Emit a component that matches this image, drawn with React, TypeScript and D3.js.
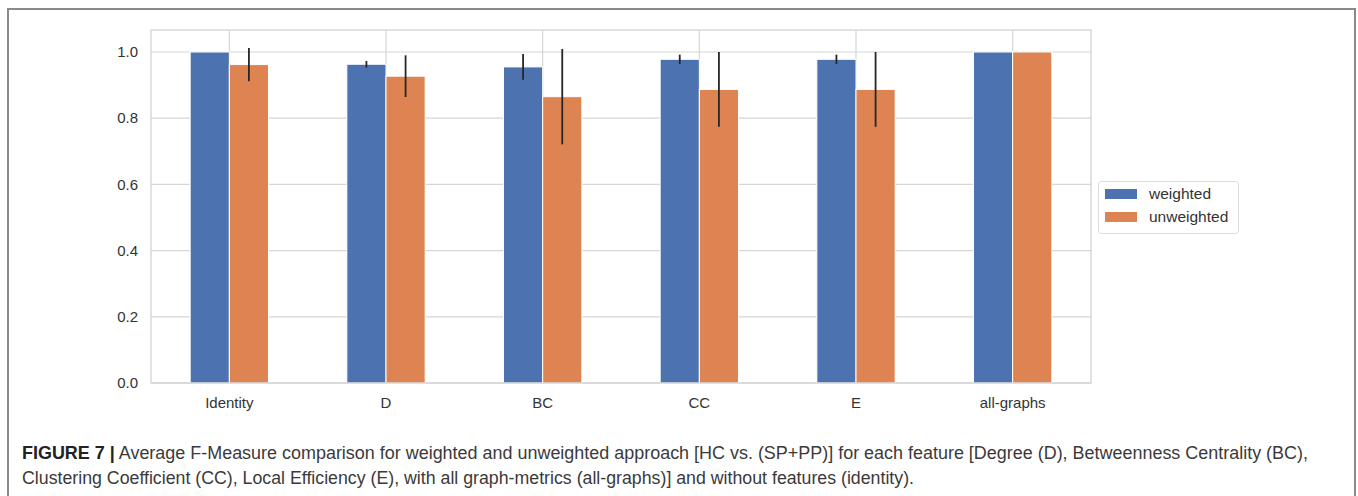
import React, { useEffect, useRef } from 'react';
import * as d3 from 'd3';

const categories = ['Identity', 'D', 'BC', 'CC', 'E', 'all-graphs'];
const weighted = [1.0, 0.963, 0.955, 0.978, 0.978, 1.0];
const weightedErr = [0, 0.01, 0.039, 0.014, 0.014, 0];
const unweighted = [0.962, 0.927, 0.865, 0.887, 0.887, 1.0];
const unweightedErr = [0.05, 0.063, 0.144, 0.113, 0.113, 0];
const yTicks = [0, 0.2, 0.4, 0.6, 0.8, 1.0];
const seriesNames = ['weighted', 'unweighted'];
const seriesColors = ['#4c72b0', '#dd8452'];

const captionLine1Rest =
  ' Average F-Measure comparison for weighted and unweighted approach [HC vs. (SP+PP)] for each feature [Degree (D), Betweenness Centrality (BC),';
const captionLine2 =
  'Clustering Coefficient (CC), Local Efficiency (E), with all graph-metrics (all-graphs)] and without features (identity).';

function App() {
  const ref = useRef<SVGSVGElement>(null);

  useEffect(() => {
    const width = 1358;
    const height = 496;
    const plot = { left: 151, right: 1091, top: 30, bottom: 383 };

    const svg = d3.select(ref.current);
    svg.selectAll('*').remove();
    svg.attr('width', width).attr('height', height);

    svg.append('rect').attr('width', width).attr('height', height).attr('fill', '#fff');

    // frame around figure (no bottom edge visible)
    svg
      .append('path')
      .attr('d', `M8,${height + 2} V9 H1355 V${height + 2}`)
      .attr('fill', 'none')
      .attr('stroke', '#8a8a8a')
      .attr('stroke-width', 2);

    const x = d3
      .scaleLinear()
      .domain([-0.5, categories.length - 0.5])
      .range([plot.left, plot.right]);
    const y = d3.scaleLinear().domain([0, 1.0665]).range([plot.bottom, plot.top]);
    const barW = x(0.25) - x(0);

    const g = svg.append('g');

    // grid
    g.selectAll('.hgrid')
      .data(yTicks)
      .enter()
      .append('line')
      .attr('x1', plot.left)
      .attr('x2', plot.right)
      .attr('y1', (d) => y(d))
      .attr('y2', (d) => y(d))
      .attr('stroke', '#d6d6d6')
      .attr('stroke-width', 1.2);
    g.selectAll('.vgrid')
      .data(categories)
      .enter()
      .append('line')
      .attr('x1', (_, i) => x(i))
      .attr('x2', (_, i) => x(i))
      .attr('y1', plot.top)
      .attr('y2', plot.bottom)
      .attr('stroke', '#d6d6d6')
      .attr('stroke-width', 1.2);

    // bars
    const series = [
      { vals: weighted, errs: weightedErr, off: -1 },
      { vals: unweighted, errs: unweightedErr, off: 0 },
    ];
    series.forEach((s, si) => {
      g.selectAll(`.bar${si}`)
        .data(s.vals)
        .enter()
        .append('rect')
        .attr('x', (_, i) => x(i) + s.off * barW)
        .attr('y', (d) => y(d))
        .attr('width', barW)
        .attr('height', (d) => plot.bottom - y(d))
        .attr('fill', seriesColors[si])
        .attr('stroke', '#fff')
        .attr('stroke-width', 1);
    });
    series.forEach((s) => {
      g.selectAll('.err')
        .data(s.vals.map((v, i) => ({ v, e: s.errs[i], i })).filter((d) => d.e > 0))
        .enter()
        .append('line')
        .attr('x1', (d) => x(d.i) + s.off * barW + barW / 2)
        .attr('x2', (d) => x(d.i) + s.off * barW + barW / 2)
        .attr('y1', (d) => y(d.v - d.e))
        .attr('y2', (d) => y(d.v + d.e))
        .attr('stroke', '#262626')
        .attr('stroke-width', 1.8);
    });

    // spines
    g.append('rect')
      .attr('x', plot.left)
      .attr('y', plot.top)
      .attr('width', plot.right - plot.left)
      .attr('height', plot.bottom - plot.top)
      .attr('fill', 'none')
      .attr('stroke', '#cfcfcf')
      .attr('stroke-width', 1.2);

    const font = '"Liberation Sans", Arial, sans-serif';

    // y tick labels
    g.selectAll('.ytick')
      .data(yTicks)
      .enter()
      .append('text')
      .attr('x', 138)
      .attr('y', (d) => y(d))
      .attr('dy', '0.35em')
      .attr('text-anchor', 'end')
      .style('font-family', font)
      .style('font-size', '15px')
      .style('fill', '#333')
      .text((d) => d3.format('.1f')(d));

    // x tick labels
    g.selectAll('.xtick')
      .data(categories)
      .enter()
      .append('text')
      .attr('x', (_, i) => x(i))
      .attr('y', 408)
      .attr('text-anchor', 'middle')
      .style('font-family', font)
      .style('font-size', '15px')
      .style('fill', '#333')
      .text((d) => d);

    // legend
    const leg = svg.append('g');
    leg.append('rect')
      .attr('x', 1098.5)
      .attr('y', 181.5)
      .attr('width', 140)
      .attr('height', 52)
      .attr('rx', 3)
      .attr('fill', '#fff')
      .attr('stroke', '#dcdcdc');
    seriesNames.forEach((name, i) => {
      leg.append('rect')
        .attr('x', 1105)
        .attr('y', 189 + i * 23)
        .attr('width', 32)
        .attr('height', 10)
        .attr('fill', seriesColors[i]);
      leg.append('text')
        .attr('x', 1149)
        .attr('y', 199 + i * 23)
        .style('font-family', font)
        .style('font-size', '15.5px')
        .style('fill', '#333')
        .text(name);
    });

    // caption
    const cap1 = svg
      .append('text')
      .attr('x', 22)
      .attr('y', 459)
      .attr('textLength', 1286)
      .attr('lengthAdjust', 'spacingAndGlyphs')
      .style('font-family', font)
      .style('font-size', '17.5px')
      .style('fill', '#3a3a3a');
    cap1.append('tspan').style('font-weight', 'bold').style('fill', '#222').text('FIGURE 7 |');
    cap1.append('tspan').text(captionLine1Rest);
    svg
      .append('text')
      .attr('x', 22)
      .attr('y', 484)
      .attr('textLength', 892)
      .attr('lengthAdjust', 'spacingAndGlyphs')
      .style('font-family', font)
      .style('font-size', '17.5px')
      .style('fill', '#3a3a3a')
      .text(captionLine2);
  }, []);

  return (
    <svg ref={ref} style={{ position: 'absolute', left: 0, top: 0, display: 'block' }} />
  );
}

export default App;
